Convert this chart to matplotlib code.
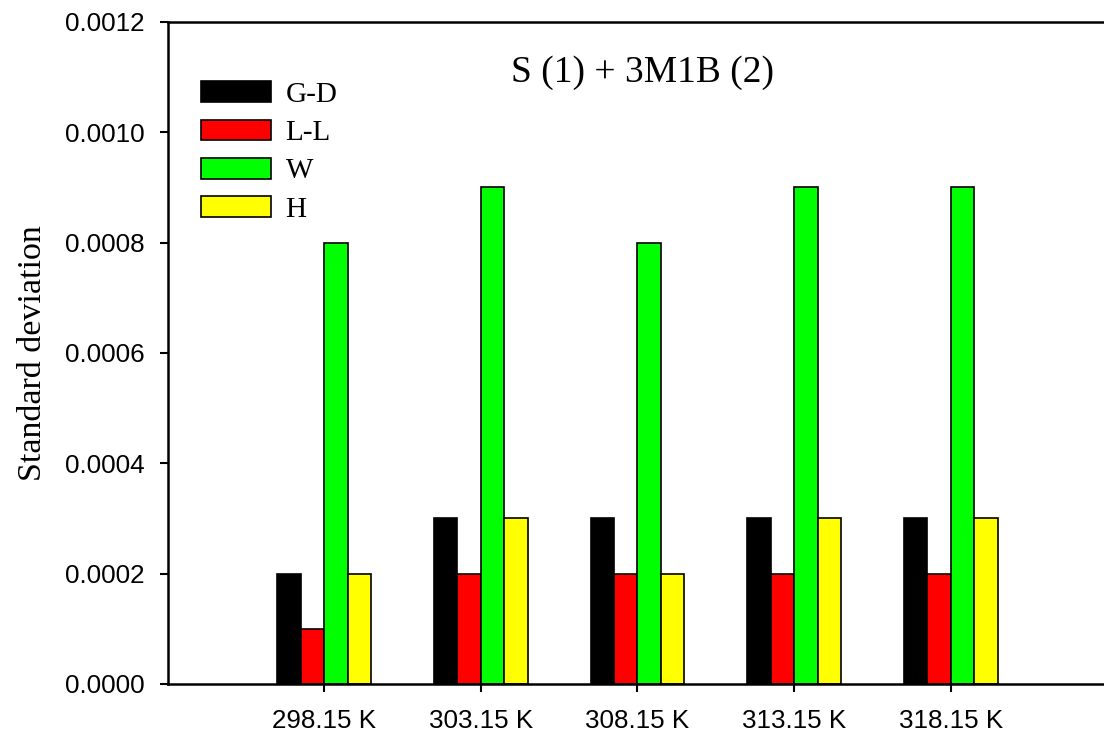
import numpy as np
import matplotlib
matplotlib.use('Agg')
import matplotlib.pyplot as plt

temps = ['298.15 K', '303.15 K', '308.15 K', '313.15 K', '318.15 K']
gd = [0.0002, 0.0003, 0.0003, 0.0003, 0.0003]
ll = [0.0001, 0.0002, 0.0002, 0.0002, 0.0002]
w = [0.0008, 0.0009, 0.0008, 0.0009, 0.0009]
h = [0.0002, 0.0003, 0.0002, 0.0003, 0.0003]
series = [('G-D', gd, '#000000'), ('L-L', ll, '#ff0000'),
          ('W', w, '#00ff00'), ('H', h, '#ffff00')]

fig = plt.figure(figsize=(11.04, 7.33), dpi=100)
ax = fig.add_axes([0.152, 0.067, 0.848, 0.903])

x = np.arange(1, len(temps) + 1)
bw = 0.15
for i, (name, vals, col) in enumerate(series):
    ax.bar(x + (i - 1.5) * bw, vals, bw, color=col, edgecolor='black',
           linewidth=1.2, label=name)

ax.set_xlim(0, 5.98)
ax.set_ylim(0, 0.0012)
ax.set_xticks(x)
ax.set_xticklabels(temps, family='Liberation Sans', fontsize=18.7)
yt = np.arange(0, 0.00121, 0.0002)
ax.set_yticks(yt)
ax.set_yticklabels(['%.4f' % v for v in yt], family='Liberation Sans', fontsize=18.7)
ax.tick_params(direction='out', length=6, width=1.5)
ax.tick_params(axis='x', pad=12)
ax.tick_params(axis='y', pad=11)
ax.spines['right'].set_visible(False)
for s in ['left', 'top', 'bottom']:
    ax.spines[s].set_linewidth(1.8)

ax.set_ylabel('Standard deviation', family='Liberation Serif', fontsize=24.5, labelpad=12)
ax.text(0.507, 0.924, 'S (1) + 3M1B (2)', transform=ax.transAxes, ha='center',
        va='center', family='Liberation Serif', fontsize=27)

leg = ax.legend(loc='upper left', bbox_to_anchor=(0.0075, 0.95), frameon=False,
                prop={'family': 'Liberation Serif', 'size': 21},
                handlelength=2.4, handleheight=0.72, labelspacing=0.4,
                handletextpad=0.5)

fig.savefig('out.png', dpi=100)
